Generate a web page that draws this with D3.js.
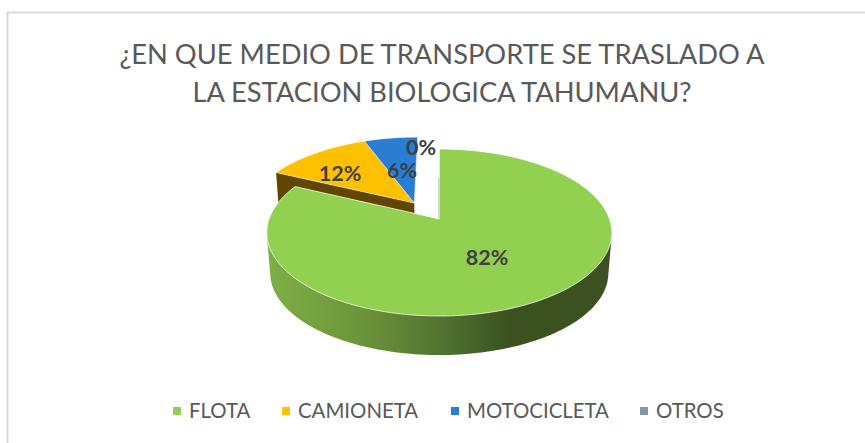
<!DOCTYPE html>
<html>
<head>
<meta charset="utf-8">
<script src="https://cdn.jsdelivr.net/npm/d3@7"></script>
<style>
  html, body { margin: 0; padding: 0; background: #fff; }
  text { font-family: Lato, "Open Sans", sans-serif; }
</style>
</head>
<body>
<div id="chart"></div>
<script>
const titleLines = ["¿EN QUE MEDIO DE TRANSPORTE SE TRASLADO A", "LA ESTACION BIOLOGICA TAHUMANU?"];
const categories = ["FLOTA", "CAMIONETA", "MOTOCICLETA", "OTROS"];
const percents = [82, 12, 6, 0];
const colors = ["#92d050", "#ffc000", "#2b7dd3", "#8497b0"];
const legendX = [173, 282, 451, 640];

const width = 865, height = 443;

const svg = d3.select("#chart").append("svg")
    .attr("width", width)
    .attr("height", height);

// chart frame, only the left and top edges show in the picture
svg.append("path")
    .attr("d", "M7.5,443V12.5H865")
    .attr("fill", "none")
    .attr("stroke", "#d9d9d9")
    .attr("stroke-width", 2);

svg.selectAll(".title")
    .data(titleLines)
    .enter().append("text")
    .attr("class", "title")
    .attr("x", 442)
    .attr("y", (d, i) => 64 + i * 37.5)
    .attr("text-anchor", "middle")
    .attr("font-size", 27.3)
    .attr("fill", "#595959")
    .text(d => d);

// perspective of the tilted pie
const origin = {x: 439.3, y: 219};
const persp = -0.1617, scaleX = 170.2, scaleY = 81.3;
const depth = 41, bottomScale = 0.98;
const explode = [0, {u: -0.152, v: -0.203}, {u: -0.152, v: -0.203}, {u: -0.152, v: -0.203}];

function project(angle, r, offset, lower) {
    const u = r * Math.sin(angle) + offset.u;
    const v = -r * Math.cos(angle) + offset.v;
    const k = 1 / (1 + persp * v);
    const s = lower ? bottomScale : 1;
    return [origin.x + s * scaleX * u * k, origin.y + (lower ? depth : 0) + s * scaleY * v * k];
}

const pie = d3.pie().sort(null).value(d => d)(percents);
pie.forEach((d, i) => { d.offset = explode[i] || {u: 0, v: 0}; });

const line = d3.line();

function rim(d, lower) {
    const n = Math.max(2, Math.ceil((d.endAngle - d.startAngle) * 40));
    return d3.range(n + 1).map(i =>
        project(d.startAngle + (d.endAngle - d.startAngle) * i / n, 1, d.offset, lower));
}

function topPath(d) {
    return line([project(0, 0, d.offset)].concat(rim(d, false))) + "Z";
}

const defs = svg.append("defs");
const sideGrad = defs.append("linearGradient")
    .attr("id", "greenSide")
    .attr("gradientUnits", "userSpaceOnUse")
    .attr("x1", 267).attr("x2", 612)
    .attr("y1", 0).attr("y2", 0);
[[0, "#7eb045"], [0.3, "#6a9139"], [0.52, "#4f7030"], [0.7, "#3b5220"], [1, "#3b5220"]].forEach(s => {
    sideGrad.append("stop").attr("offset", s[0]).attr("stop-color", s[1]);
});

const flota = pie[0], camioneta = pie[1], moto = pie[2];

// cut wall of the exploded yellow slice, the green top covers most of it
const c = project(0, 0, camioneta.offset), cl = project(0, 0, camioneta.offset, true);
const e = project(camioneta.startAngle, 1, camioneta.offset);
const el = project(camioneta.startAngle, 1, camioneta.offset, true);
svg.append("path")
    .attr("d", line([c, e, el, cl]) + "Z")
    .attr("fill", "#614600");

// exploded slices
svg.selectAll(".slice")
    .data([camioneta, moto])
    .enter().append("path")
    .attr("class", "slice")
    .attr("d", topPath)
    .attr("fill", d => colors[d.index])
    .attr("stroke", "#fff")
    .attr("stroke-opacity", 0.6)
    .attr("stroke-width", 0.8);

// thin dark edge where the green slice starts
svg.append("path")
    .attr("d", line([project(0, 0, flota.offset), project(0, 0.55, flota.offset)]))
    .attr("stroke", "#55693c")
    .attr("stroke-width", 1.2)
    .attr("fill", "none");

// green side wall: hull of the front half of both rims, so the outline runs straight down the sides
const front = {startAngle: Math.PI / 2, endAngle: Math.PI * 1.5, offset: flota.offset};
const hull = d3.polygonHull(rim(front, false).concat(rim(front, true)));
svg.append("path")
    .attr("d", line(hull) + "Z")
    .attr("fill", "url(#greenSide)");

svg.append("path")
    .attr("d", topPath(flota))
    .attr("fill", colors[0])
    .attr("stroke", "#fff")
    .attr("stroke-opacity", 0.75)
    .attr("stroke-width", 1);

// data labels
const labelPos = [[487, 265], [340, 181], [402, 178], [421, 155]];
svg.selectAll(".label")
    .data(percents)
    .enter().append("text")
    .attr("class", "label")
    .attr("x", (d, i) => labelPos[i][0])
    .attr("y", (d, i) => labelPos[i][1])
    .attr("text-anchor", "middle")
    .attr("font-size", 21.5)
    .attr("font-weight", 700)
    .attr("fill", "#404040")
    .text(d => d + "%");

// legend
const legend = svg.selectAll(".legend")
    .data(categories)
    .enter().append("g")
    .attr("class", "legend")
    .attr("transform", (d, i) => "translate(" + legendX[i] + ",407)");

legend.append("rect")
    .attr("width", 8)
    .attr("height", 8)
    .attr("fill", (d, i) => colors[i]);

legend.append("text")
    .attr("x", 16)
    .attr("y", 11)
    .attr("font-size", 20.4)
    .attr("fill", "#595959")
    .text(d => d);
</script>
</body>
</html>
